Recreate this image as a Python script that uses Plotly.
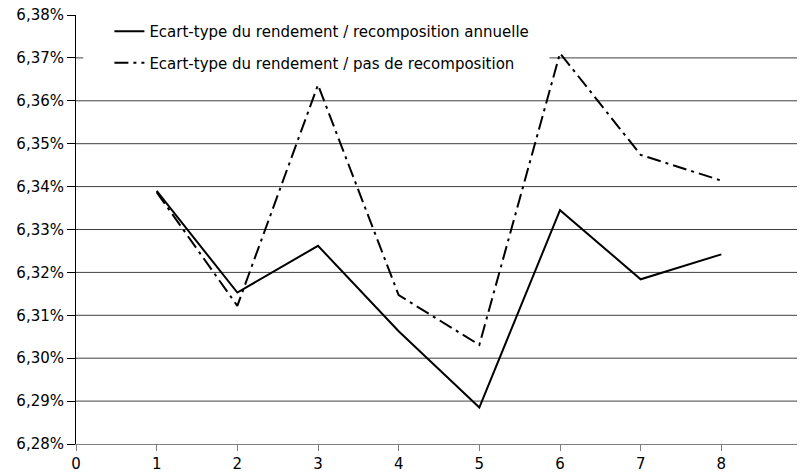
import plotly.graph_objects as go

# Data
x_vals = [1, 2, 3, 4, 5, 6, 7, 8]
ecart_annuelle = [6.3390, 6.3153, 6.3262, 6.3063, 6.2885, 6.3345, 6.3184, 6.3242]
ecart_sans = [6.3387, 6.3122, 6.3637, 6.3147, 6.3031, 6.3711, 6.3474, 6.3414]
name_annuelle = "Ecart-type du rendement / recomposition annuelle"
name_sans = "Ecart-type du rendement / pas de recomposition"
y_ticks = [6.28, 6.29, 6.30, 6.31, 6.32, 6.33, 6.34, 6.35, 6.36, 6.37, 6.38]
y_tick_labels = ["6,28%", "6,29%", "6,30%", "6,31%", "6,32%", "6,33%", "6,34%",
                 "6,35%", "6,36%", "6,37%", "6,38%"]
x_ticks = [0, 1, 2, 3, 4, 5, 6, 7, 8, 9]

fig = go.Figure()
fig.add_trace(go.Scatter(
    x=x_vals, y=ecart_annuelle, mode="lines", name=name_annuelle,
    line=dict(color="black", width=2), legendgroup="a"))
fig.add_trace(go.Scatter(
    x=x_vals, y=ecart_sans, mode="lines", name=name_sans,
    line=dict(color="black", width=2, dash="14px,5px,3px,5px"), legendgroup="b"))

# horizontal gridlines (no line at the top value; legend box hides part of 6.37)
grid_color = "#404040"
shapes = []
for v in y_ticks[1:-1]:
    if abs(v - 6.37) < 1e-9:
        segs = [(0, 0.09), (5.87, 9)]
    else:
        segs = [(0, 9)]
    for a, b in segs:
        shapes.append(dict(type="line", xref="x", yref="y", x0=a, x1=b, y0=v, y1=v,
                           line=dict(color=grid_color, width=1), layer="below"))

# the page body has an 8px margin, so the figure is sized to fill the rest of the window
fig.update_layout(
    width=797, height=467,
    margin=dict(l=68, r=3, t=7, b=31, autoexpand=False),
    plot_bgcolor="white", paper_bgcolor="white",
    font=dict(family="DejaVu Sans", color="black", size=14),
    showlegend=True,
    legend=dict(x=0.046, y=1.0, xanchor="left", yanchor="top",
                bgcolor="rgba(0,0,0,0)", font=dict(size=15, family="DejaVu Sans"),
                tracegroupgap=9, itemwidth=30),
    shapes=shapes,
    xaxis=dict(range=[0, 9], tickvals=x_ticks, ticktext=[str(t) for t in x_ticks],
               showgrid=False, zeroline=False, showline=True, linecolor="#808080",
               linewidth=1, ticks="outside", ticklen=6, tickcolor="#808080",
               tickfont=dict(size=15), automargin=False, ticklabeloverflow="allow"),
    yaxis=dict(range=[6.28, 6.38], tickvals=y_ticks, ticktext=y_tick_labels,
               showgrid=False, zeroline=False, showline=True, linecolor="black",
               linewidth=1, ticks="outside", ticklen=8, tickcolor="black",
               tickfont=dict(size=15), automargin=False, ticklabeloverflow="allow"),
)

fig.write_html("out.html")
